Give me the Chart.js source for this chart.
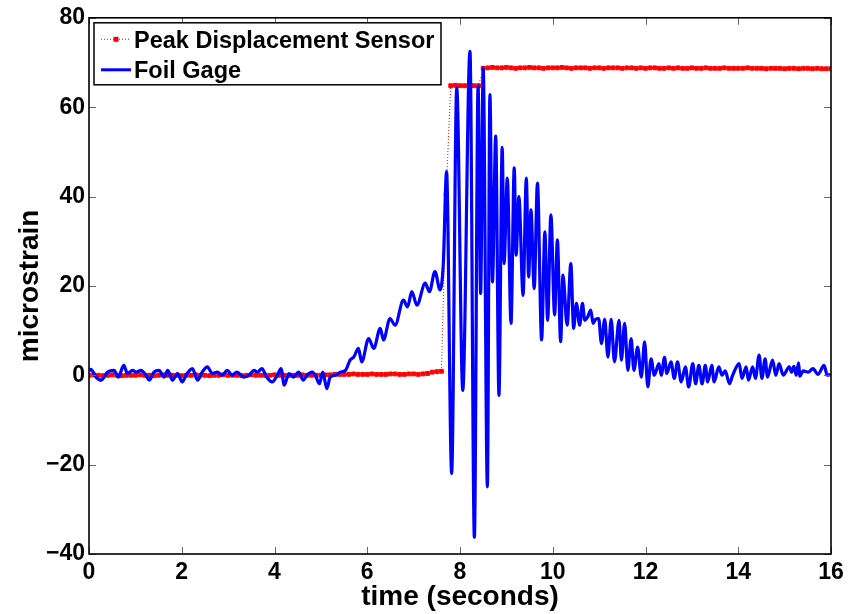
<!DOCTYPE html>
<html>
<head>
<meta charset="utf-8">
<title>Peak Displacement Sensor vs Foil Gage</title>
<script src="https://cdn.jsdelivr.net/npm/chart.js@4.4.1/dist/chart.umd.min.js"></script>
<style>
  html, body { margin: 0; padding: 0; background: #fff; }
  #wrap { width: 849px; height: 614px; }
</style>
</head>
<body>
<div id="wrap"><canvas id="strainChart" width="849" height="614"></canvas></div>
<script>
// foil gage trace (seconds, microstrain)
const gageTime = [
  0.00, 0.04, 0.15, 0.26, 0.40, 0.54, 0.63, 0.75, 0.83, 0.94, 1.02, 1.12, 1.23, 1.30, 1.40, 1.51,
  1.62, 1.70, 1.80, 1.91, 2.01, 2.09, 2.23, 2.34, 2.44, 2.55, 2.66, 2.77, 2.87, 2.98, 3.09, 3.19,
  3.34, 3.45, 3.56, 3.63, 3.73, 3.82, 3.95, 4.06, 4.14, 4.21, 4.31, 4.41, 4.52, 4.62, 4.70, 4.81,
  4.88, 4.97, 5.04, 5.13, 5.20, 5.31, 5.42, 5.53, 5.63, 5.71, 5.81, 5.88, 6.03, 6.14, 6.28, 6.35,
  6.49, 6.60, 6.78, 6.87, 6.96, 7.07, 7.25, 7.34, 7.46, 7.57, 7.64, 7.71, 7.82, 7.93, 8.06, 8.215,
  8.31, 8.39, 8.445, 8.50, 8.59, 8.645, 8.70, 8.77, 8.84, 8.91, 8.95, 9.02, 9.10, 9.17, 9.21, 9.27,
  9.36, 9.43, 9.48, 9.53, 9.60, 9.67, 9.76, 9.83, 9.89, 9.96, 10.04, 10.10, 10.17, 10.22, 10.31, 10.39,
  10.45, 10.51, 10.58, 10.64, 10.69, 10.75, 10.82, 10.87, 10.92, 10.99, 11.05, 11.12, 11.19, 11.26, 11.33, 11.43,
  11.48, 11.55, 11.62, 11.69, 11.75, 11.83, 11.91, 11.98, 12.05, 12.12, 12.19, 12.29, 12.34, 12.41, 12.46, 12.55,
  12.62, 12.69, 12.77, 12.86, 12.93, 13.02, 13.08, 13.15, 13.22, 13.29, 13.34, 13.43, 13.48, 13.58, 13.65, 13.72,
  13.81, 13.88, 14.02, 14.08, 14.17, 14.22, 14.31, 14.37, 14.45, 14.51, 14.58, 14.63, 14.74, 14.81, 14.88, 14.97,
  15.10, 15.15, 15.20, 15.25, 15.30, 15.33, 15.40, 15.51, 15.61, 15.72, 15.85, 15.92, 16.00
];
const gageStrain = [
  1.0, 1.3, -0.4, -1.1, 0.7, 1.1, -0.4, 2.2, 0.4, 1.1, 0.7, 1.1, 0.0, -1.1, 0.7, 1.1,
  -0.4, 1.1, -1.1, 0.4, -1.5, 0.0, 1.5, -1.1, 0.7, 1.9, 0.4, 0.7, 0.0, 1.1, 0.0, 0.7,
  -0.4, 0.0, 1.1, 0.7, 1.5, -0.2, -1.5, 0.0, 1.5, -2.2, 0.4, -0.4, 0.7, -1.1, 0.0, 0.7,
  0.0, -1.9, 0.7, -3.0, -0.4, 0.0, 0.7, 1.1, 3.4, 4.1, 6.0, 3.0, 8.2, 6.0, 10.5, 7.9,
  12.7, 11.2, 16.8, 15.3, 18.7, 15.7, 20.6, 18.7, 23.2, 19.1, 25.0, 45.6, -22.0, 64.3, -3.4, 72.5,
  -36.3, 64.7, 18.3, 68.8, -25.0, 62.8, 20.9, 53.5, -4.5, 51.0, 25.0, 44.1, 11.6, 46.4, 26.9, 40.0,
  17.9, 44.1, 22.0, 37.0, 19.4, 43.0, 7.9, 32.1, 12.3, 35.9, 13.5, 30.3, 7.5, 22.4, 11.2, 25.0,
  10.5, 16.1, 11.2, 16.1, 12.3, 13.0, 14.6, 11.6, 12.5, 12.7, 7.1, 12.5, 4.1, 12.5, 3.0, 12.3,
  3.4, 11.6, 1.1, 8.2, 1.1, 6.3, -0.4, 7.5, -2.6, 3.7, 0.0, 2.6, 0.0, 4.0, 0.4, 3.0,
  -0.7, 3.0, -1.5, 1.9, -2.6, 2.6, -1.9, 2.2, -1.9, 2.2, -1.5, 2.2, -1.5, 1.9, 0.0, 1.0,
  -1.9, 0.0, 2.6, -0.7, 1.9, -1.1, 1.9, -0.7, 4.5, -0.7, 3.7, -0.4, 3.4, 0.0, 2.6, 0.0,
  1.9, 0.7, 2.0, 0.0, 2.8, -0.2, 1.0, 0.7, 1.5, 0.2, 2.2, 0.0, 0.2
];

// peak displacement sensor, one reading every 0.1 s from 0 to 16 s
const sensorStart = 0;
const sensorStep = 0.1;
const sensorStrain = [
  0, 0.1, 0, -0.1, 0, 0.1, 0, -0.1, 0, 0,
  0, 0.1, 0, 0, -0.1, 0, 0.1, 0, 0, 0,
  -0.1, 0, 0, 0.1, 0, 0, -0.1, 0, 0, 0.1,
  0, 0, 0, -0.1, 0, 0.1, 0, 0, 0, 0,
  0.1, 0, 0, -0.1, 0, 0, 0.1, 0, 0, 0,
  0, 0.1, 0.1, 0.2, 0.2, 0.2, 0.2, 0.3, 0.2, 0.2,
  0.2, 0.3, 0.2, 0.2, 0.2, 0.3, 0.3, 0.2, 0.2, 0.3,
  0.3, 0.2, 0.3, 0.4, 0.7, 0.8, 0.9, 40.5, 64.8, 64.9,
  64.8, 64.8, 64.9, 64.8, 64.8, 68.7, 68.8, 68.9, 68.8, 68.8,
  68.9, 68.8, 68.7, 68.8, 68.8, 68.9, 68.8, 68.8, 68.7, 68.8,
  68.8, 68.8, 68.9, 68.8, 68.7, 68.8, 68.8, 68.8, 68.7, 68.8,
  68.8, 68.7, 68.8, 68.8, 68.8, 68.7, 68.8, 68.8, 68.7, 68.8,
  68.7, 68.8, 68.8, 68.7, 68.7, 68.8, 68.7, 68.8, 68.7, 68.7,
  68.8, 68.7, 68.7, 68.8, 68.7, 68.7, 68.7, 68.8, 68.7, 68.7,
  68.7, 68.7, 68.8, 68.7, 68.7, 68.7, 68.6, 68.7, 68.7, 68.7,
  68.6, 68.7, 68.7, 68.6, 68.7, 68.7, 68.6, 68.7, 68.6, 68.6,
  68.6
];

const xTicks = [0, 2, 4, 6, 8, 10, 12, 14, 16];
const yTicks = [-40, -20, 0, 20, 40, 60, 80];
const seriesNames = ['Peak Displacement Sensor', 'Foil Gage'];

const FONT = "'Liberation Sans', Arial, Helvetica, sans-serif";
Chart.defaults.font.family = FONT;
Chart.defaults.color = '#000';

const gagePoints = gageTime.map((t, i) => ({ x: t, y: gageStrain[i] }));
const sensorPoints = sensorStrain.map((v, i) => ({ x: +(sensorStart + i * sensorStep).toFixed(2), y: v }));

const minus = v => String(v).replace('-', '\u2212');

// MATLAB-ish box: inward ticks on all four sides, plus the line+marker legend
const matlabFrame = {
  id: 'matlabFrame',
  afterDatasetsDraw(chart) {
    const { ctx, chartArea: a, scales: { x, y } } = chart;
    ctx.save();
    ctx.strokeStyle = '#666';
    ctx.lineWidth = 1;
    ctx.beginPath();
    xTicks.forEach(t => {
      const px = Math.round(x.getPixelForValue(t)) + 0.5;
      ctx.moveTo(px, a.bottom); ctx.lineTo(px, a.bottom - 7);
      ctx.moveTo(px, a.top); ctx.lineTo(px, a.top + 7);
    });
    yTicks.forEach(t => {
      const py = Math.round(y.getPixelForValue(t)) + 0.5;
      ctx.moveTo(a.left, py); ctx.lineTo(a.left + 7, py);
      ctx.moveTo(a.right, py); ctx.lineTo(a.right - 7, py);
    });
    ctx.stroke();
    ctx.strokeStyle = '#000';
    ctx.lineWidth = 1.6;
    ctx.strokeRect(a.left, a.top, a.right - a.left, a.bottom - a.top);
    ctx.restore();
  },
  afterDraw(chart) {
    const { ctx, chartArea: a } = chart;
    const bx = a.left + 5, by = a.top + 5, bw = 347, bh = 62;
    ctx.save();
    ctx.fillStyle = '#fff';
    ctx.fillRect(bx, by, bw, bh);
    ctx.strokeStyle = '#000';
    ctx.lineWidth = 1.5;
    ctx.strokeRect(bx, by, bw, bh);

    // red dotted sample with a marker
    const r1 = by + 16.5, r2 = by + 47;
    ctx.strokeStyle = '#ff0000';
    ctx.lineWidth = 1;
    ctx.setLineDash([1, 2]);
    ctx.beginPath(); ctx.moveTo(bx + 7, r1); ctx.lineTo(bx + 37, r1); ctx.stroke();
    ctx.setLineDash([]);
    ctx.fillStyle = '#ff0000';
    ctx.fillRect(bx + 19.5, r1 - 2.5, 5, 5);
    // blue solid sample
    ctx.strokeStyle = '#0000ff';
    ctx.lineWidth = 3;
    ctx.beginPath(); ctx.moveTo(bx + 7, r2); ctx.lineTo(bx + 37, r2); ctx.stroke();

    ctx.fillStyle = '#000';
    ctx.font = 'bold 23.5px ' + FONT;
    ctx.textBaseline = 'alphabetic';
    ctx.fillText(seriesNames[0], bx + 40, by + 25);
    ctx.fillText(seriesNames[1], bx + 40, by + 55);
    ctx.restore();
  }
};

const ctx = document.getElementById('strainChart').getContext('2d');
const strainChart = new Chart(ctx, {
  type: 'line',
  data: {
    datasets: [{
      label: seriesNames[0],
      data: sensorPoints,
      borderColor: '#ff0000',
      backgroundColor: '#ff0000',
      borderWidth: 1,
      borderDash: [1, 2],
      pointStyle: 'rect',
      pointRadius: 2.7,
      pointBorderWidth: 1,
      pointBorderColor: '#ff0000',
      pointBackgroundColor: '#ff0000',
      tension: 0,
      order: 2
    },
    {
      label: seriesNames[1],
      data: gagePoints,
      borderColor: '#0000ff',
      backgroundColor: '#0000ff',
      borderWidth: 3.2,
      pointRadius: 0,
      cubicInterpolationMode: 'monotone',
      order: 1
    }]
  },
  options: {
    responsive: false,
    animation: false,
    events: [],
    layout: { padding: { left: 0, right: 18, top: 17, bottom: 0 } },
    scales: {
      x: {
        type: 'linear',
        min: 0,
        max: 16,
        afterBuildTicks: s => { s.ticks = xTicks.map(v => ({ value: v })); },
        afterFit: s => { s.height = 60; },
        grid: { display: false, drawTicks: false },
        border: { display: false },
        ticks: {
          padding: 5,
          maxRotation: 0,
          autoSkip: false,
          font: { size: 23, weight: 'bold' },
          callback: v => minus(v)
        },
        title: {
          display: true,
          text: 'time (seconds)',
          font: { size: 28, weight: 'bold' },
          padding: { top: 0, bottom: 0 }
        }
      },
      y: {
        type: 'linear',
        min: -40,
        max: 80,
        afterBuildTicks: s => { s.ticks = yTicks.map(v => ({ value: v })); },
        afterFit: s => { s.width = 89; },
        grid: { display: false, drawTicks: false },
        border: { display: false },
        ticks: {
          padding: 4,
          autoSkip: false,
          font: { size: 23, weight: 'bold' },
          callback: v => minus(v)
        },
        title: {
          display: true,
          text: 'microstrain',
          font: { size: 28, weight: 'bold' },
          padding: { top: 13, bottom: 0 }
        }
      }
    },
    plugins: {
      legend: { display: false },
      tooltip: { enabled: false }
    }
  },
  plugins: [matlabFrame]
});
</script>
</body>
</html>
